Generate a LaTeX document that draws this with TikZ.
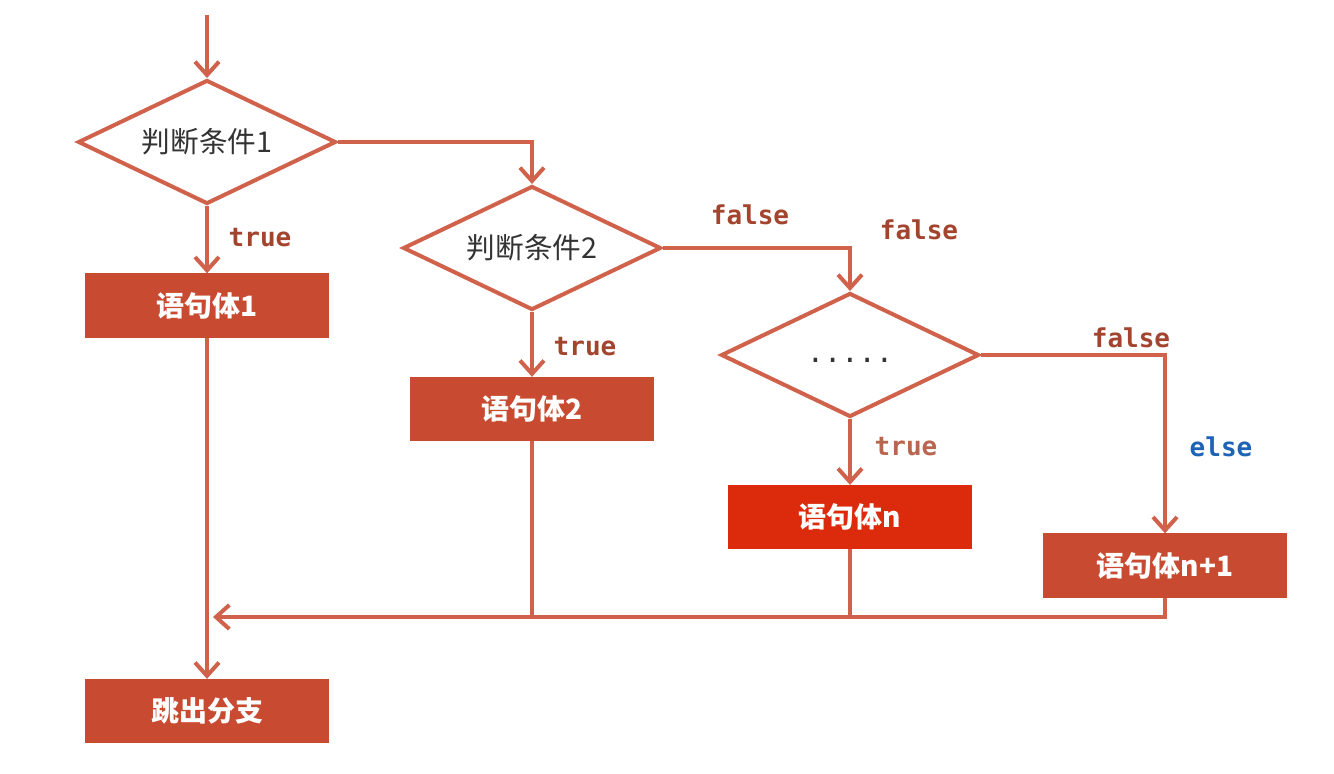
\documentclass[tikz,border=0pt]{standalone}
\usepackage{fontspec}
\setmainfont{Liberation Sans}
\newfontfamily\cjk{Noto Sans CJK SC}
\newfontfamily\mono{DejaVu Sans Mono}
\usetikzlibrary{shapes.geometric,arrows.meta}
\definecolor{lineC}{HTML}{D0614A}
\definecolor{boxC}{HTML}{C84B31}
\definecolor{boxN}{HTML}{DC2B0C}
\definecolor{lblC}{HTML}{A3442F}
\definecolor{lblL}{HTML}{B8664F}
\definecolor{elseC}{HTML}{1F64B4}
\definecolor{txtC}{HTML}{333333}
\tikzset{
  dia/.style={shape=diamond, aspect=2, draw=lineC, line width=3pt, fill=white, inner sep=0pt,
    minimum width=193.5pt, minimum height=93pt, text=txtC, font=\cjk\fontsize{21.5}{25}\selectfont},
  boxst/.style={shape=rectangle, draw=boxC, fill=boxC, line width=1pt, minimum width=181.5pt,
    minimum height=47.25pt, text=white, font=\cjk\bfseries\fontsize{21}{25}\selectfont},
  boxnst/.style={boxst, draw=boxN, fill=boxN},
  arr/.style={draw=lineC, line width=3pt, -{Straight Barb[length=10pt,width=18pt,line width=3pt]}},
  ln/.style={draw=lineC, line width=3pt},
  lbl/.style={text=lblC, font=\mono\bfseries\fontsize{19.5}{23}\selectfont, inner sep=0pt},
}
\begin{document}
\begin{tikzpicture}[x=0.75pt,y=-0.75pt]
\useasboundingbox (0,0) rectangle (1334,774);
\fill[white] (0,0) rectangle (1334,774);
% nodes
\node[dia] (d1) at (207,142) {判断条件1};
\node[boxst] (b1) at (207,305.5) {语句体1};
\node[dia] (d2) at (532,248) {判断条件2};
\node[boxst] (b2) at (532,409) {语句体2};
\node[dia] (d3) at (850,355) {\mono\vphantom{x}.....};
\node[boxnst] (bn) at (850,517) {语句体n};
\node[boxst] (bn1) at (1165,565.5) {语句体n+1};
\node[boxst] (ex) at (207,711) {跳出分支};
\coordinate (start) at (207,15);
\coordinate (m) at (213,617);
% labels
\node[lbl] (t1) at (260,238) {true};
\node[lbl] (t2) at (585,347) {true};
\node[lbl] (f1) at (750,215) {false};
\node[lbl] (f2) at (919,230) {false};
\node[lbl, text=lblL] (t3) at (906,447) {true};
\node[lbl] (f3) at (1131,338) {false};
\node[lbl, text=elseC] (el) at (1221,447) {else};
% connectors
\draw[arr] (start) -- (d1.north);
\draw[arr] (d1.south) -- (b1.north);
\draw[arr] (d1.east) -| (d2.north);
\draw[arr] (d2.south) -- (b2.north);
\draw[arr] (d2.east) -| (d3.north);
\draw[arr] (d3.south) -- (bn.north);
\draw[arr] (d3.east) -| (bn1.north);
\draw[arr] (b1.south) -- (ex.north);
\draw[arr] (bn1.south) |- (m);
\draw[ln] (b2.south) -- (b2.south |- m);
\draw[ln] (bn.south) -- (bn.south |- m);
\end{tikzpicture}
\end{document}
